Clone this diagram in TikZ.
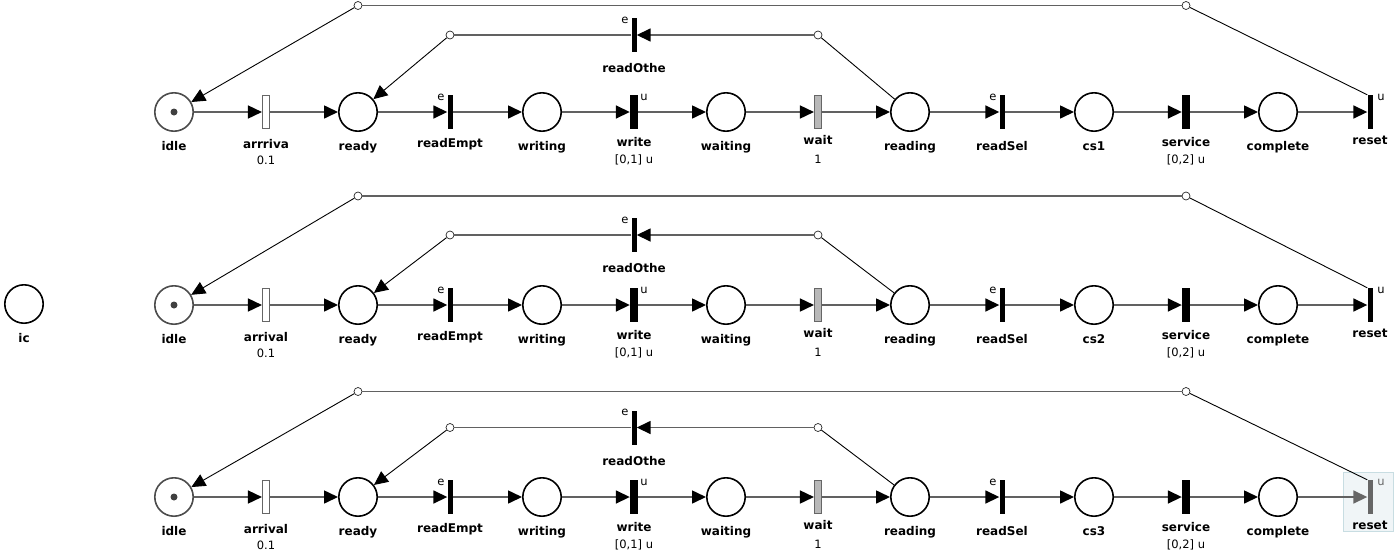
\documentclass[tikz,border=0pt]{standalone}
\usepackage{fontspec}
\setmainfont{DejaVu Sans}
\usetikzlibrary{arrows.meta}
\definecolor{selfill}{HTML}{F0F5F7}
\definecolor{seldraw}{HTML}{C8DDE2}
\tikzset{
  place/.style={circle,draw=black,line width=1.6pt,minimum size=38.4pt,inner sep=0pt},
  bar/.style={rectangle,inner sep=0pt,minimum width=5pt,minimum height=34pt,fill=black},
  wide bar/.style={bar,minimum width=8pt},
  open trans/.style={rectangle,inner sep=0pt,minimum width=7pt,minimum height=33pt,draw=black!60,line width=1.1pt,fill=white},
  grey trans/.style={open trans,fill=black!28},
  via/.style={circle,draw=black!85,fill=white,line width=0.7pt,minimum size=8pt,inner sep=0pt},
  flat/.style={draw=black!62,line width=1.6pt},
  slant/.style={draw=black,line width=0.9pt},
  tip/.style={-{Triangle[length=14pt,width=13pt,color=black]}},
  lbl/.style={font=\fontsize{12}{14}\selectfont\bfseries,anchor=base,inner sep=0pt},
  tlabel/.style={font=\fontsize{11.5}{14}\selectfont,anchor=base,inner sep=0pt},
}
\begin{document}
\begin{tikzpicture}[x=1pt,y=-1pt]
\useasboundingbox (0,0) rectangle (1394,552);
% selected transition of the last net
\draw[seldraw,fill=selfill] (1343.5,472.5) rectangle (1393.5,531.5);
% lone place on the left
\node[place] (ic) at (24,304) {};
\node[lbl] at (24,342.5) {ic};
\foreach \n/\y/\yt/\yb/\arr/\rc in {1/112/5.5/35/arrriva/black,2/305/196/235/arrival/black,3/497/391.5/427.5/arrival/black!60}{
  % places
  \node[place,draw=black!70] (idle\n) at (174,\y) {};
  \fill[black!75] (idle\n) circle (3.5pt);
  \node[place] (ready\n) at (358,\y) {};
  \node[place] (writing\n) at (542,\y) {};
  \node[place] (waiting\n) at (726,\y) {};
  \node[place] (reading\n) at (910,\y) {};
  \node[place] (cs\n) at (1094,\y) {};
  \node[place] (compl\n) at (1278,\y) {};
  % transitions
  \node[open trans] (arr\n) at (266,\y) {};
  \node[bar] (rem\n) at (450,\y) {};
  \node[wide bar] (write\n) at (634,\y) {};
  \node[grey trans] (wait\n) at (818,\y) {};
  \node[bar] (rsel\n) at (1002,\y) {};
  \node[wide bar] (serv\n) at (1186,\y) {};
  \node[bar,fill=\rc] (reset\n) at (1370,\y) {};
  \node[bar] (ro\n) at (634,\yb) {};
  % bend points
  \node[via] (bL\n) at (358,\yt) {};
  \node[via] (bR\n) at (1186,\yt) {};
  \node[via] (bE\n) at (450,\yb) {};
  \node[via] (bO\n) at (818,\yb) {};
  % labels
  \node[lbl] at (174,\y+38.5) {idle};
  \node[lbl] at (266,\y+36) {\arr};
  \node[tlabel] at (266,\y+52.5) {0.1};
  \node[lbl] at (358,\y+38.5) {ready};
  \node[lbl] at (450,\y+35.5) {readEmpt};
  \node[tlabel] at (441,\y-12) {e};
  \node[lbl] at (542,\y+38.5) {writing};
  \node[lbl] at (634,\y+34) {write};
  \node[tlabel] at (634,\y+51.5) {[0,1] u};
  \node[tlabel] at (644,\y-12) {u};
  \node[lbl] at (726,\y+38.5) {waiting};
  \node[lbl] at (818,\y+32.5) {wait};
  \node[tlabel] at (818,\y+51.5) {1};
  \node[lbl] at (910,\y+38.5) {reading};
  \node[lbl] at (1002,\y+38) {readSel};
  \node[tlabel] at (993,\y-12) {e};
  \node[lbl] at (1094,\y+38.5) {cs\n};
  \node[lbl] at (1186,\y+34) {service};
  \node[tlabel] at (1186,\y+51.5) {[0,2] u};
  \node[lbl] at (1278,\y+38.5) {complete};
  \node[lbl] at (1370,\y+32.5) {reset};
  \node[tlabel,text=\rc] at (1381,\y-12) {u};
  \node[lbl] at (634,\yb+37.5) {readOthe};
  \node[tlabel] at (625,\yb-12) {e};
  % arcs
  \foreach \p/\q in {idle/arr,arr/ready,ready/rem,rem/writing,writing/write,write/waiting,waiting/wait,wait/reading,reading/rsel,rsel/cs,cs/serv,serv/compl}
    \draw[flat,tip] (\p\n) -- (\q\n);
  \draw[flat,-{Triangle[length=14pt,width=13pt,color=\rc]}] (compl\n) -- (reset\n);
  \draw[slant] (reset\n.north west) -- (bR\n);
  \draw[flat] (bR\n) -- (bL\n);
  \draw[slant,tip] (bL\n) -- (idle\n);
  \draw[slant] (reading\n) -- (bO\n);
  \draw[flat,tip] (bO\n) -- (ro\n);
  \draw[flat] (ro\n) -- (bE\n);
  \draw[slant,tip] (bE\n) -- (ready\n);
}
\end{tikzpicture}
\end{document}
